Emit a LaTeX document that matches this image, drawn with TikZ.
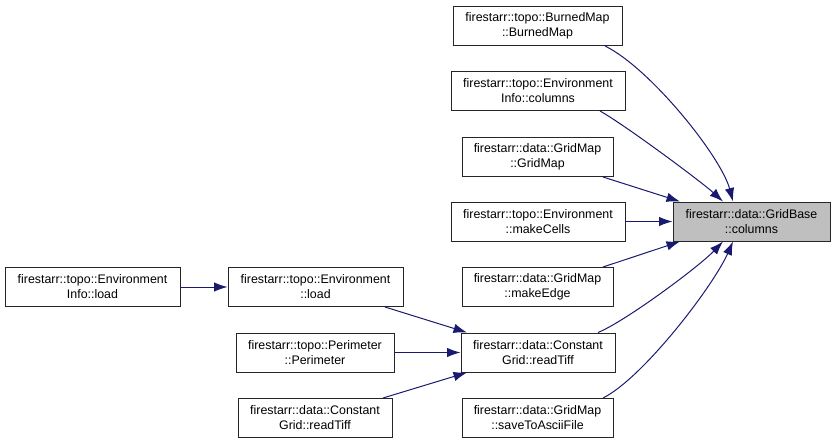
\documentclass[tikz,border=0pt]{standalone}
\usepackage{fontspec}
\setmainfont{Liberation Sans}
\usetikzlibrary{arrows.meta}
\definecolor{edgeblue}{HTML}{191970}
\definecolor{hlgray}{HTML}{BFBFBF}
\tikzset{
  fn/.style={draw=black!85, line width=1pt, inner sep=0pt, minimum height=39pt,
    align=center, font=\fontsize{12.4}{15}\selectfont, fill=white},
  hl/.style={fn, fill=hlgray},
  call/.style={draw=edgeblue, line width=1pt, -{Latex[length=13.5pt,width=9.5pt]}}
}
\begin{document}
\begin{tikzpicture}[x=1pt,y=-1pt]
\useasboundingbox (0,0) rectangle (835,444);
% target
\node[hl, minimum width=157pt] (col) at (751.5,221.5) {firestarr::data::GridBase\\::columns};
% callers
\node[fn, minimum width=169pt] (burned) at (537.5,26) {firestarr::topo::BurnedMap\\::BurnedMap};
\node[fn, minimum width=174pt] (envcol) at (538,91) {firestarr::topo::Environment\\Info::columns};
\node[fn, minimum width=151pt] (gridmap) at (537.5,157) {firestarr::data::GridMap\\::GridMap};
\node[fn, minimum width=174pt] (cells) at (538,221.5) {firestarr::topo::Environment\\::makeCells};
\node[fn, minimum width=151pt] (edge) at (537.5,287) {firestarr::data::GridMap\\::makeEdge};
\node[fn, minimum width=154pt] (tiff) at (538,352.5) {firestarr::data::Constant\\Grid::readTiff};
\node[fn, minimum width=151pt] (save) at (537.5,418) {firestarr::data::GridMap\\::saveToAsciiFile};
\node[fn, minimum width=175pt] (infoload) at (92.5,287) {firestarr::topo::Environment\\Info::load};
\node[fn, minimum width=175pt] (envload) at (315.5,287) {firestarr::topo::Environment\\::load};
\node[fn, minimum width=158pt] (perim) at (315,352.5) {firestarr::topo::Perimeter\\::Perimeter};
\node[fn, minimum width=154pt] (ltiff) at (315,418) {firestarr::data::Constant\\Grid::readTiff};
% edges into columns
\draw[call] ([xshift=67.5pt]burned.south) .. controls +(45,22) and +(-12,-45) .. ([xshift=-18.5pt]col.north);
\draw[call] ([xshift=62pt]envcol.south) .. controls +(25,14) and +(-22,-20) .. ([xshift=-28.5pt]col.north);
\draw[call] ([xshift=65.5pt]gridmap.south) -- ([xshift=-71.5pt]col.north);
\draw[call] (cells.east) -- (col.west);
\draw[call] ([xshift=65.5pt]edge.north) -- ([xshift=-71.5pt]col.south);
\draw[call] ([xshift=60pt]tiff.north) .. controls +(27,-11) and +(-25,26) .. ([xshift=-28.5pt]col.south);
\draw[call] ([xshift=65.5pt]save.north) .. controls +(40,-20) and +(-20,45) .. ([xshift=-18.5pt]col.south);
% edges into readTiff / load
\draw[call] (infoload.east) -- (envload.west);
\draw[call] ([xshift=69.5pt]envload.south) -- ([xshift=-71pt]tiff.north);
\draw[call] (perim.east) -- (tiff.west);
\draw[call] ([xshift=68pt]ltiff.north) -- ([xshift=-71pt]tiff.south);
\end{tikzpicture}
\end{document}
